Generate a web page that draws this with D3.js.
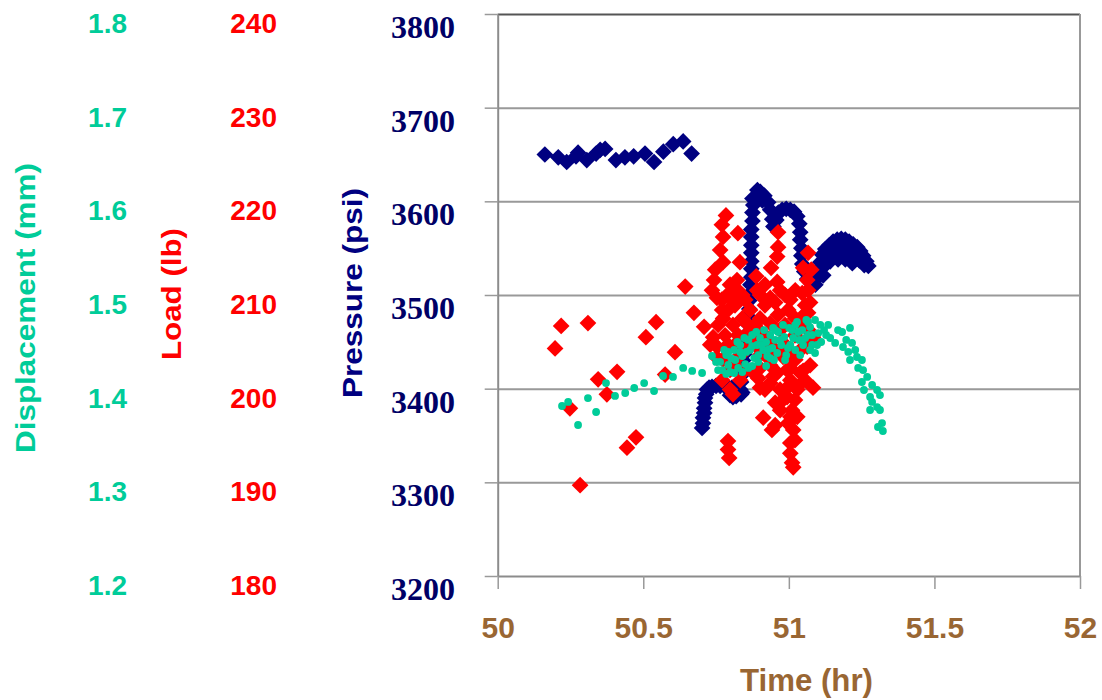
<!DOCTYPE html>
<html>
<head>
<meta charset="utf-8">
<script src="https://cdn.jsdelivr.net/npm/d3@7"></script>
<style>
  body { margin: 0; background: #fff; }
  svg { display: block; }
</style>
</head>
<body>
<svg id="chart" width="1102" height="700"></svg>
<script>
// Axis tick values
const timeTicks = [50, 50.5, 51, 51.5, 52];
const pressureTicks = [3200, 3300, 3400, 3500, 3600, 3700, 3800];
const loadTicks = [180, 190, 200, 210, 220, 230, 240];
const displacementTicks = [1.2, 1.3, 1.4, 1.5, 1.6, 1.7, 1.8];

// Pressure readings: [time (hr), pressure (psi)]
const pressureReadings = [
  [50.162,3650],[50.208,3647],[50.237,3642],[50.269,3648],[50.276,3652],[50.306,3644],[50.338,3651],
  [50.352,3655],[50.369,3656],[50.406,3644],[50.437,3647],[50.467,3648],[50.506,3651],[50.537,3642],
  [50.569,3653],[50.603,3661],[50.637,3664],[50.666,3651],
  [50.702,3358],[50.705,3363],[50.705,3369],[50.709,3374],[50.709,3379],[50.712,3385],[50.712,3390],
  [50.716,3394],[50.719,3399],[50.726,3401],[50.736,3402],[50.750,3403],[50.764,3403],[50.778,3403],
  [50.791,3402],[50.805,3401],[50.819,3401],[50.833,3399],[50.840,3396],[50.836,3394],[50.819,3392],
  [50.798,3393],[50.808,3391],
  [50.836,3407],[50.840,3415],[50.840,3422],[50.843,3430],[50.847,3437],[50.850,3444],[50.854,3452],
  [50.857,3459],[50.861,3468],[50.861,3477],[50.864,3485],[50.864,3494],[50.868,3502],[50.868,3511],
  [50.871,3519],[50.871,3528],[50.871,3536],[50.871,3545],[50.871,3553],[50.871,3562],[50.871,3570],
  [50.875,3579],[50.875,3588],[50.878,3596],[50.885,3605],[50.892,3612],[50.875,3603],[50.909,3601],
  [50.902,3610],[50.916,3606],[50.929,3599],[50.936,3591],[50.943,3581],[50.947,3573],[50.957,3580],
  [50.964,3588],[50.977,3591],[50.991,3592],[51.005,3591],[51.018,3589],[51.029,3584],[51.036,3576],
  [51.039,3567],[51.039,3559],[51.043,3550],[51.043,3542],[51.046,3533],[51.053,3525],[51.063,3517],
  [51.077,3512],[51.091,3511],
  [51.097,3518],[51.104,3527],[51.108,3535],[51.115,3543],[51.125,3549],[51.139,3553],[51.152,3557],
  [51.166,3559],[51.180,3560],[51.194,3559],[51.207,3557],[51.221,3554],[51.235,3551],[51.245,3547],
  [51.255,3542],[51.266,3536],[51.273,3531],
  [51.135,3543],[51.159,3546],[51.183,3548],[51.204,3546],[51.225,3542],[51.242,3537],[51.259,3532],
  [51.125,3532],[51.118,3521],[51.142,3536],[51.169,3538],[51.194,3538],[51.218,3534]
];

// Load readings: [time (hr), load (lb)]
const loadReadings = [
  [50.197,204.3],[50.218,206.7],[50.310,207.0],[50.248,197.9],[50.283,189.7],[50.345,201.0],[50.375,199.4],
  [50.410,201.8],[50.444,193.7],[50.475,194.8],[50.509,205.5],[50.544,207.1],[50.575,201.5],[50.609,203.9],
  [50.644,210.9],[50.674,208.1],[50.709,206.6],
  [50.784,218.5],[50.770,217.5],[50.774,216.2],[50.764,214.8],[50.774,213.5],[50.747,212.7],[50.743,211.6],
  [50.736,210.5],[50.753,209.7],[50.770,209.5],[50.774,207.5],[50.740,205.5],[50.753,204.5],[50.730,204.7],
  [50.753,203.3],[50.774,203.1],[50.798,202.0],[50.798,199.9],[50.808,199.4],[50.791,194.4],[50.791,193.5],
  [50.795,192.6],
  [50.825,216.6],[50.832,213.5],[50.822,211.6],[50.825,210.5],[50.888,212.0],[50.850,209.5],[50.815,208.9],
  [50.867,208.4],[50.840,207.5],[50.808,206.8],[50.884,206.8],[50.850,205.7],[50.901,205.2],[50.815,204.7],
  [50.875,201.8],[50.895,201.1],[50.918,199.9],[50.925,200.2],[50.912,196.9],[50.942,195.6],
  [50.963,216.7],[50.963,215.1],[50.960,214.1],[50.939,212.9],[50.960,211.4],[50.970,210.5],[50.953,209.2],
  [50.963,207.9],[50.936,207.0],[50.987,206.8],[50.918,205.7],[50.980,203.4],[50.994,202.0],[50.946,201.3],
  [51.005,202.2],[50.960,201.7],[50.997,200.2],[51.028,200.2],[50.970,198.5],[50.953,198.5],[50.970,197.7],
  [51.021,198.8],[50.994,199.1],[51.011,197.7],[51.005,197.0],[51.029,197.0],[50.997,196.3],[51.015,195.6],
  [50.953,196.1],[51.021,194.5],[51.005,194.2],[51.005,193.1],[51.011,192.1],[51.015,191.6],
  [51.066,214.5],[51.049,212.9],[51.077,212.7],[51.063,211.6],[51.066,210.5],[51.046,210.2],[51.073,209.2],
  [51.056,208.9],[51.066,208.1],[51.046,207.7],[51.039,207.0],[51.066,206.3],[51.083,205.5],[51.063,204.5],
  [51.049,201.9],[51.039,201.7],[51.083,200.1],[51.029,199.9],
  [50.798,211.1],[50.901,210.0],[50.918,208.9],[50.791,208.4],[50.901,207.5],[51.005,209.5],
  [51.021,205.7],[50.936,204.7],[50.833,203.6],[50.987,204.7],[50.901,203.6],[51.039,204.1],[50.771,200.9],
  [50.788,210.0],[50.808,209.5],[50.840,210.0],[50.891,210.5],[50.918,211.1],[50.936,209.7],
  [50.987,210.0],[51.022,210.5],[50.998,208.4],[51.022,207.5],[50.970,206.3],[50.895,206.3],[50.861,206.8],
  [50.826,205.7],[50.791,204.7],[50.850,204.1],[50.884,204.7],[50.918,203.6],[50.953,204.1],[51.005,203.6],
  [50.815,202.5],[50.850,202.0],[50.901,202.2],[50.936,202.5],[51.022,203.1],[50.833,200.9],[51.005,200.9],
  [50.970,199.9],[50.771,208.4],[50.757,206.8],[50.781,205.7],[51.056,200.9],[51.073,202.5],[50.936,200.6],
  [50.901,200.1]
];

// Displacement readings: [time (hr), displacement (mm)]
const displacementReadings = [
  [50.221,1.3815],[50.242,1.3858],[50.276,1.3612],[50.310,1.3900],[50.338,1.3751],[50.372,1.4060],
  [50.403,1.3922],[50.438,1.3954],[50.469,1.4007],[50.503,1.4060],[50.537,1.3975],[50.568,1.4135],
  [50.602,1.4125],[50.637,1.4221],[50.668,1.4189],[50.702,1.4167],[50.736,1.4349],
  [50.764,1.4285],[50.771,1.4199],[50.785,1.4359],[50.792,1.4253],[50.798,1.4178],[50.812,1.4413],
  [50.816,1.4306],[50.826,1.4221],[50.833,1.4466],[50.840,1.4349],[50.850,1.4263],[50.861,1.4520],
  [50.867,1.4413],[50.874,1.4573],[50.881,1.4327],[50.891,1.4466],[50.895,1.4285],[50.901,1.4541],
  [50.912,1.4413],[50.922,1.4498],[50.926,1.4349],[50.936,1.4573],[50.943,1.4434],[50.953,1.4520],
  [50.960,1.4381],[50.963,1.4605],[50.974,1.4466],[50.984,1.4552],[50.991,1.4359],[51.001,1.4648],
  [51.005,1.4466],[51.015,1.4541],[51.022,1.4413],[51.028,1.4712],[51.035,1.4520],[51.046,1.4626],
  [51.049,1.4466],[51.060,1.4733],[51.066,1.4573],[51.073,1.4658],[51.080,1.4466],[51.090,1.4733],
  [51.090,1.4381],[51.101,1.4594],[51.111,1.4498],[51.121,1.4626],[51.135,1.4680],[51.142,1.4541],
  [51.159,1.4488],[51.183,1.4605],[51.186,1.4445],[51.210,1.4648],[51.217,1.4488],[51.204,1.4392],
  [51.234,1.4338],[51.251,1.4306],[51.238,1.4221],[51.255,1.4199],[51.269,1.4125],[51.251,1.4071],
  [51.286,1.4039],[51.258,1.3986],[51.303,1.3986],[51.279,1.3911],[51.313,1.3932],[51.286,1.3858],
  [51.303,1.3804],[51.313,1.3772],[51.279,1.3772],[51.320,1.3633],[51.306,1.3591],[51.323,1.3548],
  [50.750,1.4285],[50.778,1.4413],[50.802,1.4327],[50.823,1.4498],[50.847,1.4541],[50.854,1.4392],
  [50.874,1.4455],[50.888,1.4605],[50.908,1.4466],[50.915,1.4626],[50.932,1.4423],[50.946,1.4648],
  [50.970,1.4520],[50.980,1.4680],[50.997,1.4434],[51.011,1.4626],[51.032,1.4605],[51.056,1.4541],
  [51.066,1.4712],[51.080,1.4573],[51.097,1.4466],[51.108,1.4680],[51.128,1.4573],[51.169,1.4626],
  [51.197,1.4520],[51.228,1.4413],[51.210,1.4306],[50.785,1.4157],[50.861,1.4221],[50.922,1.4242],
  [50.949,1.4306],
  [50.757,1.4199],[50.812,1.4167],[50.840,1.4178],[50.874,1.4242],[50.895,1.4359],[50.936,1.4327],
  [50.987,1.4306],[51.039,1.4359],[51.073,1.4413],[51.022,1.4680],[50.953,1.4626],[50.833,1.4392],
  [50.792,1.4392]
];

const GREEN = "#00CC99", RED = "#FF0000", NAVY = "#000080", NAVY_TEXT = "#000066", BROWN = "#996633";
const SANS = "'Liberation Sans', Arial, sans-serif";
const SERIF = "'Liberation Serif', 'Times New Roman', serif";

const svg = d3.select("#chart");

const plotLeft = 497.7, plotRight = 1080, plotTop = 14, plotBottom = 576;

const x = d3.scaleLinear().domain([50, 52]).range([plotLeft, plotRight]);
const yP = d3.scaleLinear().domain([3200, 3800]).range([plotBottom, plotTop]);
const yL = d3.scaleLinear().domain([180, 240]).range([plotBottom, plotTop]);
const yD = d3.scaleLinear().domain([1.2, 1.8]).range([plotBottom, plotTop]);

// Horizontal gridlines
svg.append("g")
  .attr("transform", `translate(${plotLeft},0)`)
  .call(d3.axisLeft(yP).tickValues(pressureTicks.slice(1)).tickSize(-(plotRight - plotLeft)).tickSizeOuter(0).tickFormat(""))
  .call(g => g.select(".domain").remove())
  .call(g => g.selectAll(".tick line")
    .attr("stroke", d => d === 3800 ? "#555" : "#999")
    .attr("stroke-width", 2));

// Right border of the plot area
svg.append("line")
  .attr("x1", plotRight).attr("x2", plotRight)
  .attr("y1", yP(3800)).attr("y2", yP(3200))
  .attr("stroke", "#999").attr("stroke-width", 2);

// Pressure axis line with outward ticks
svg.append("g")
  .attr("transform", `translate(${plotLeft},0)`)
  .call(d3.axisLeft(yP).tickValues(pressureTicks).tickSize(13).tickSizeOuter(0).tickFormat(""))
  .call(g => g.select(".domain").attr("stroke", "#8c8c8c").attr("stroke-width", 2))
  .call(g => g.selectAll(".tick line").attr("stroke", "#999").attr("stroke-width", 1.5));

// Time axis
svg.append("g")
  .attr("transform", `translate(0,${plotBottom})`)
  .call(d3.axisBottom(x).tickValues(timeTicks).tickSize(13).tickSizeOuter(0).tickFormat(d3.format("")))
  .call(g => g.select(".domain").attr("stroke", "#8c8c8c").attr("stroke-width", 2))
  .call(g => g.selectAll(".tick line").attr("stroke", "#999").attr("stroke-width", 1.5))
  .call(g => g.selectAll(".tick text")
    .attr("y", 62).attr("dy", 0)
    .attr("fill", BROWN)
    .attr("font-family", SANS).attr("font-size", 30).attr("font-weight", "bold"));

// Tick labels for the three vertical scales
function labelColumn(scale, ticks, xPos, fmt, color, family, size, dy) {
  svg.append("g")
    .attr("transform", `translate(${xPos},0)`)
    .call(d3.axisLeft(scale).tickValues(ticks).tickSize(0).tickPadding(0).tickFormat(fmt))
    .call(g => g.select(".domain").remove())
    .call(g => g.selectAll(".tick text")
      .attr("x", 0).attr("dy", dy)
      .attr("fill", color)
      .attr("font-family", family).attr("font-size", size).attr("font-weight", "bold"));
}
labelColumn(yD, displacementTicks, 127, d3.format(".1f"), GREEN, SANS, 28, 18.5);
labelColumn(yL, loadTicks, 277, d3.format("d"), RED, SANS, 28, 18.5);
labelColumn(yP, pressureTicks, 455, d3.format("d"), NAVY_TEXT, SERIF, 32, 23.5);

// Axis titles
function verticalTitle(text, xBase, yCenter, len, color, size) {
  svg.append("text")
    .attr("transform", `translate(${xBase},${yCenter}) rotate(-90)`)
    .attr("text-anchor", "middle")
    .attr("font-family", SANS).attr("font-size", size).attr("font-weight", "bold")
    .attr("fill", color)
    .attr("textLength", len).attr("lengthAdjust", "spacingAndGlyphs")
    .text(text);
}
verticalTitle("Displacement (mm)", 35, 308, 290, GREEN, 28);
verticalTitle("Load (lb)", 181, 294, 132, RED, 28);
verticalTitle("Pressure (psi)", 362, 293, 210, NAVY, 28);

svg.append("text")
  .attr("x", 806.5).attr("y", 690.5)
  .attr("text-anchor", "middle")
  .attr("font-family", SANS).attr("font-size", 31).attr("font-weight", "bold")
  .attr("fill", BROWN)
  .attr("textLength", 133).attr("lengthAdjust", "spacingAndGlyphs")
  .text("Time (hr)");

// Markers: pressure, then load, then displacement on top
const diamond = d3.symbol().type(d3.symbolSquare).size(140);

svg.append("g").selectAll("path")
  .data(pressureReadings)
  .join("path")
  .attr("d", diamond)
  .attr("transform", d => `translate(${x(d[0])},${yP(d[1])}) rotate(45)`)
  .attr("fill", NAVY);

svg.append("g").selectAll("path")
  .data(loadReadings)
  .join("path")
  .attr("d", diamond)
  .attr("transform", d => `translate(${x(d[0])},${yL(d[1])}) rotate(45)`)
  .attr("fill", RED);

svg.append("g").selectAll("circle")
  .data(displacementReadings)
  .join("circle")
  .attr("cx", d => x(d[0]))
  .attr("cy", d => yD(d[1]))
  .attr("r", 3.9)
  .attr("fill", GREEN);
</script>
</body>
</html>
